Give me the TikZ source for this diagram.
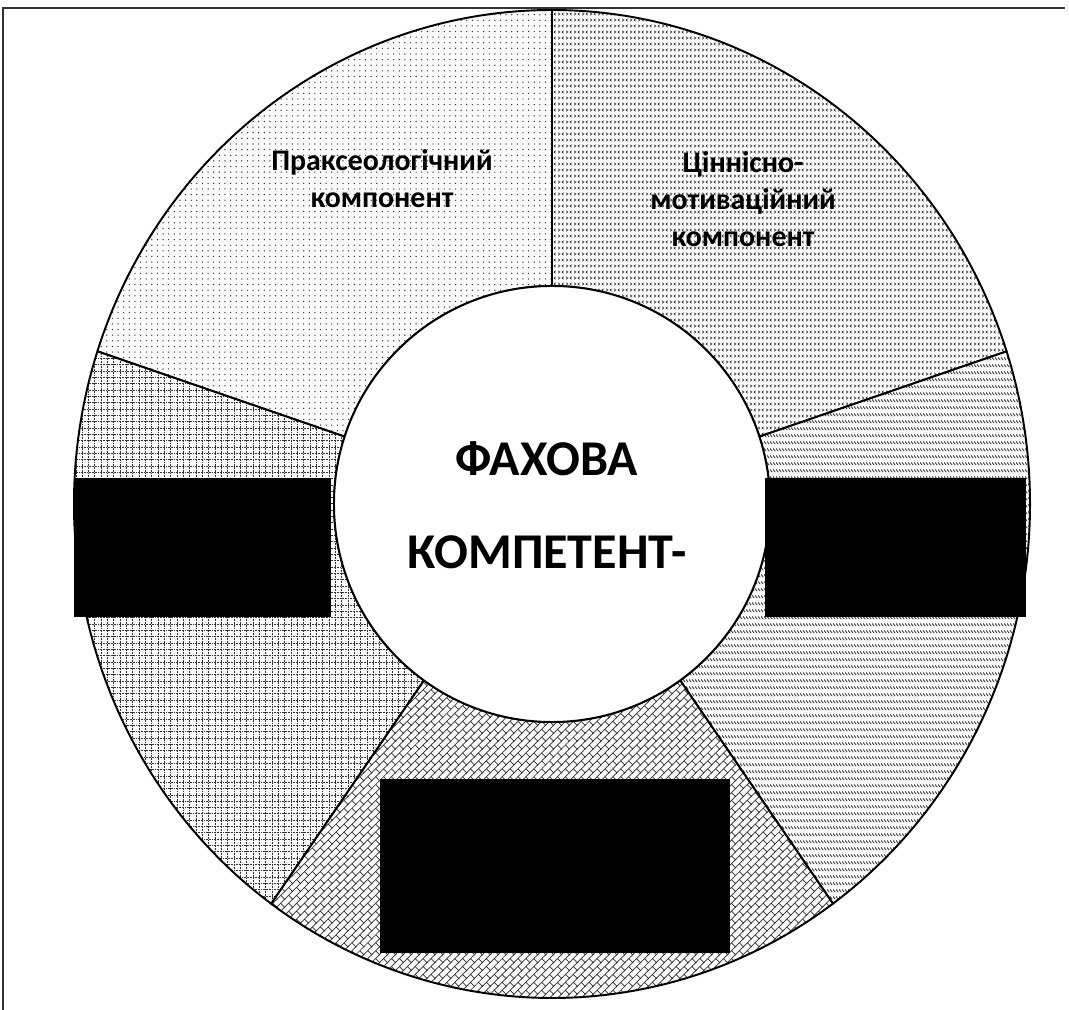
\documentclass[tikz,border=0pt]{standalone}
\usepackage{fontspec}
\setmainfont{Carlito}
\usepackage{tikz}
\usetikzlibrary{patterns}

\pgfdeclarepatternformonly{pdots}{\pgfpoint{-1pt}{-1pt}}{\pgfpoint{1pt}{1pt}}{\pgfpoint{3.2pt}{3.2pt}}{%
\pgfpathcircle{\pgfpointorigin}{0.4pt}\pgfusepath{fill}}
\pgfdeclarepatternformonly{pchevr}{\pgfpointorigin}{\pgfpoint{4.5pt}{3.4pt}}{\pgfpoint{4.5pt}{3.4pt}}{%
\pgfsetlinewidth{0.4pt}%
\pgfpathmoveto{\pgfpoint{1.5pt}{2.4pt}}\pgfpathlineto{\pgfpoint{0.6pt}{1.7pt}}\pgfpathlineto{\pgfpoint{1.5pt}{1.0pt}}%
\pgfpathmoveto{\pgfpoint{3.0pt}{2.4pt}}\pgfpathlineto{\pgfpoint{3.9pt}{1.7pt}}\pgfpathlineto{\pgfpoint{3.0pt}{1.0pt}}%
\pgfusepath{stroke}}
\pgfdeclarepatternformonly{pdash}{\pgfpointorigin}{\pgfpoint{1.8pt}{3.9pt}}{\pgfpoint{1.8pt}{3.9pt}}{%
\pgfsetlinewidth{0.5pt}%
\pgfpathmoveto{\pgfpoint{0pt}{2.7pt}}\pgfpathlineto{\pgfpoint{1.6pt}{1.1pt}}\pgfusepath{stroke}}
\pgfdeclarepatternformonly{pbrick}{\pgfpoint{-0.5pt}{-0.5pt}}{\pgfpoint{5pt}{5pt}}{\pgfpoint{4.5pt}{4.5pt}}{%
\pgfsetlinewidth{0.4pt}%
\pgfpathmoveto{\pgfpoint{-0.5pt}{-0.5pt}}\pgfpathlineto{\pgfpoint{5pt}{5pt}}%
\pgfpathmoveto{\pgfpoint{2.25pt}{2.25pt}}\pgfpathlineto{\pgfpoint{4.5pt}{0pt}}%
\pgfusepath{stroke}}
\pgfdeclarepatternformonly{pgrid}{\pgfpoint{-0.5pt}{-0.5pt}}{\pgfpoint{3.6pt}{3.6pt}}{\pgfpoint{3.6pt}{3.6pt}}{%
\pgfsetlinewidth{0.45pt}\pgfsetdash{{0.45pt}{0.45pt}}{0pt}%
\pgfpathmoveto{\pgfpoint{0pt}{0pt}}\pgfpathlineto{\pgfpoint{3.6pt}{0pt}}%
\pgfpathmoveto{\pgfpoint{0pt}{0pt}}\pgfpathlineto{\pgfpoint{0pt}{3.6pt}}%
\pgfusepath{stroke}}

\tikzset{
sector/.style={draw=black,line width=1.1pt,line join=round,preaction={fill=gray!4},pattern=#1,pattern color=black!80},
hidebox/.style={fill=black},
lbl/.style={inner sep=0pt,align=center,font=\bfseries\fontsize{17}{21}\selectfont},
title/.style={inner sep=0pt,align=center,font=\bfseries\fontsize{28.5}{53}\selectfont}
}

\begin{document}
\begin{tikzpicture}
\useasboundingbox (0,0) rectangle (21.38,20.2);
\draw[line width=1pt,black!80] (0.06,0) -- (0.06,20.04) -- (21.3,20.04);
\begin{scope}[shift={(11.04,10.12)}]
\foreach \s/\pat in {90/pdots,18/pchevr,-54/pdash,-126/pbrick,162/pgrid}{
\draw[sector=\pat] (\s:9.56cm and 9.88cm) arc[start angle=\s,end angle=\s+72,x radius=9.56cm,y radius=9.88cm]
  -- (\s+72:4.36cm) arc[start angle=\s+72,end angle=\s,radius=4.36cm] -- cycle;
}
\draw[line width=1.1pt,fill=white] (0,0) circle (4.36cm);
\end{scope}
\fill[hidebox] (1.48,7.86) rectangle (6.62,10.64);
\fill[hidebox] (15.3,7.86) rectangle (20.52,10.64);
\fill[hidebox] (7.6,1.14) rectangle (14.6,4.62);
\node[lbl] (prax) at (7.64,16.63) {Праксеологічний\\компонент};
\node[lbl] (cinn) at (14.86,16.22) {Ціннісно-\\мотиваційний\\компонент};
\node[title] (fakh) at (10.94,10.1) {ФАХОВА\\КОМПЕТЕНТ-};
\end{tikzpicture}
\end{document}
